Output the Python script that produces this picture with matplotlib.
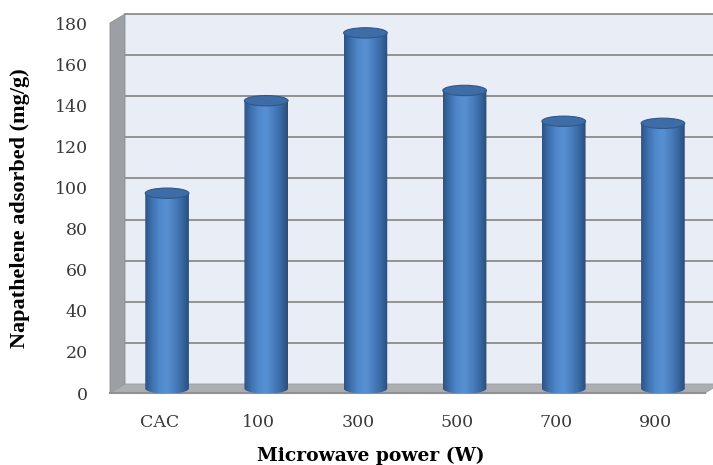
import numpy as np
import matplotlib
matplotlib.use("Agg")
import matplotlib.pyplot as plt
from matplotlib.patches import Polygon, Ellipse, PathPatch
from matplotlib.path import Path
from matplotlib.colors import LinearSegmentedColormap

# adsorption capacity for each sample
categories = ["CAC", "100", "300", "500", "700", "900"]
adsorbed = [95, 140, 173, 145, 130, 129]
yticks = list(range(0, 181, 20))

fig = plt.figure(figsize=(7.13, 4.65), dpi=100)
ax = fig.add_axes([110 / 713, 72 / 465, 595 / 713, 370 / 465])
ax.set_xlim(-0.5, 5.5)
ax.set_ylim(0, 180)
ax.patch.set_visible(False)
for s in ax.spines.values():
    s.set_visible(False)

# depth of the 3d box in data units (about 15 px right, 9 px up)
ddx = 15 / (595 / 6)
ddy = 9 / (370 / 180)
x0, x1 = -0.5, 5.5

# back wall
ax.add_patch(Polygon([(x0 + ddx, ddy), (x1 + ddx, ddy), (x1 + ddx, 180 + ddy),
                      (x0 + ddx, 180 + ddy)], closed=True, fc="#e9edf5",
                     ec="none", clip_on=False, zorder=0))
for v in yticks[1:]:
    ax.plot([x0 + ddx, x1 + ddx], [v + ddy, v + ddy], color="#8c8c8c",
            lw=1.3, clip_on=False, zorder=1)

# side wall
ax.add_patch(Polygon([(x0, 0), (x0, 180), (x0 + ddx, 180 + ddy), (x0 + ddx, ddy)],
                     closed=True, fc="#9c9fa4", ec="#8a8d92", lw=0.6,
                     clip_on=False, zorder=1))
# floor
ax.add_patch(Polygon([(x0, 0), (x1, 0), (x1 + ddx, ddy), (x0 + ddx, ddy)],
                     closed=True, fc="#acaeb2", ec="#9a9ca0", lw=0.6,
                     clip_on=False, zorder=1))
ax.plot([x0, x1], [0, 0], color="#8e9094", lw=1.5, clip_on=False, zorder=1)

# cylinders
cyl = LinearSegmentedColormap.from_list(
    "cyl", ["#2b5384", "#3f72b0", "#5089cb", "#5891d3", "#4a7fbf",
            "#3a6aa4", "#2a4d7b"])
grad = np.linspace(0, 1, 256).reshape(1, -1)
xs = np.arange(len(categories)) + ddx / 2
width = 0.44
eh = ddy * 1.15
bars = ax.bar(xs, adsorbed, width, bottom=ddy / 2, color="none", zorder=2)
t = np.linspace(np.pi, 2 * np.pi, 40)
for b in bars:
    bx0 = b.get_x()
    bw = b.get_width()
    bot = b.get_y()
    top = bot + b.get_height()
    xc = bx0 + bw / 2
    arc = np.column_stack([xc + bw / 2 * np.cos(t), bot + eh / 2 * np.sin(t)])
    verts = np.vstack([[(bx0, top)], arc, [(bx0 + bw, top), (bx0, top)]])
    body = PathPatch(Path(verts, closed=True), fc="none", ec="none", zorder=2)
    ax.add_patch(body)
    im = ax.imshow(grad, cmap=cyl, aspect="auto", zorder=2,
                   extent=[bx0, bx0 + bw, bot - eh, top])
    im.set_clip_path(body)
    ax.add_patch(Ellipse((xc, top), bw, eh, fc="#3d6ca6", ec="#2f5889",
                         lw=0.8, zorder=3))

ax.set_xlim(-0.5, 5.5)
ax.set_ylim(0, 180)

ax.set_xticks(range(len(categories)))
ax.set_xticklabels(categories)
ax.set_yticks(yticks)
ax.tick_params(length=0, labelsize=12.5, labelcolor="#3a3a3a")
ax.tick_params(axis="x", pad=15)
ax.tick_params(axis="y", pad=16)
for lab in ax.get_xticklabels() + ax.get_yticklabels():
    lab.set_fontfamily("DejaVu Serif")

ax.set_ylabel("Napathelene adsorbed (mg/g)", fontfamily="Liberation Serif",
              fontweight="bold", fontsize=16)
ax.yaxis.set_label_coords(-0.134, 0.5)
ax.set_xlabel("Microwave power (W)", fontfamily="DejaVu Serif",
              fontweight="bold", fontsize=13.5)
ax.xaxis.set_label_coords(0.439, -0.146)

fig.savefig("out.png", dpi=100)
